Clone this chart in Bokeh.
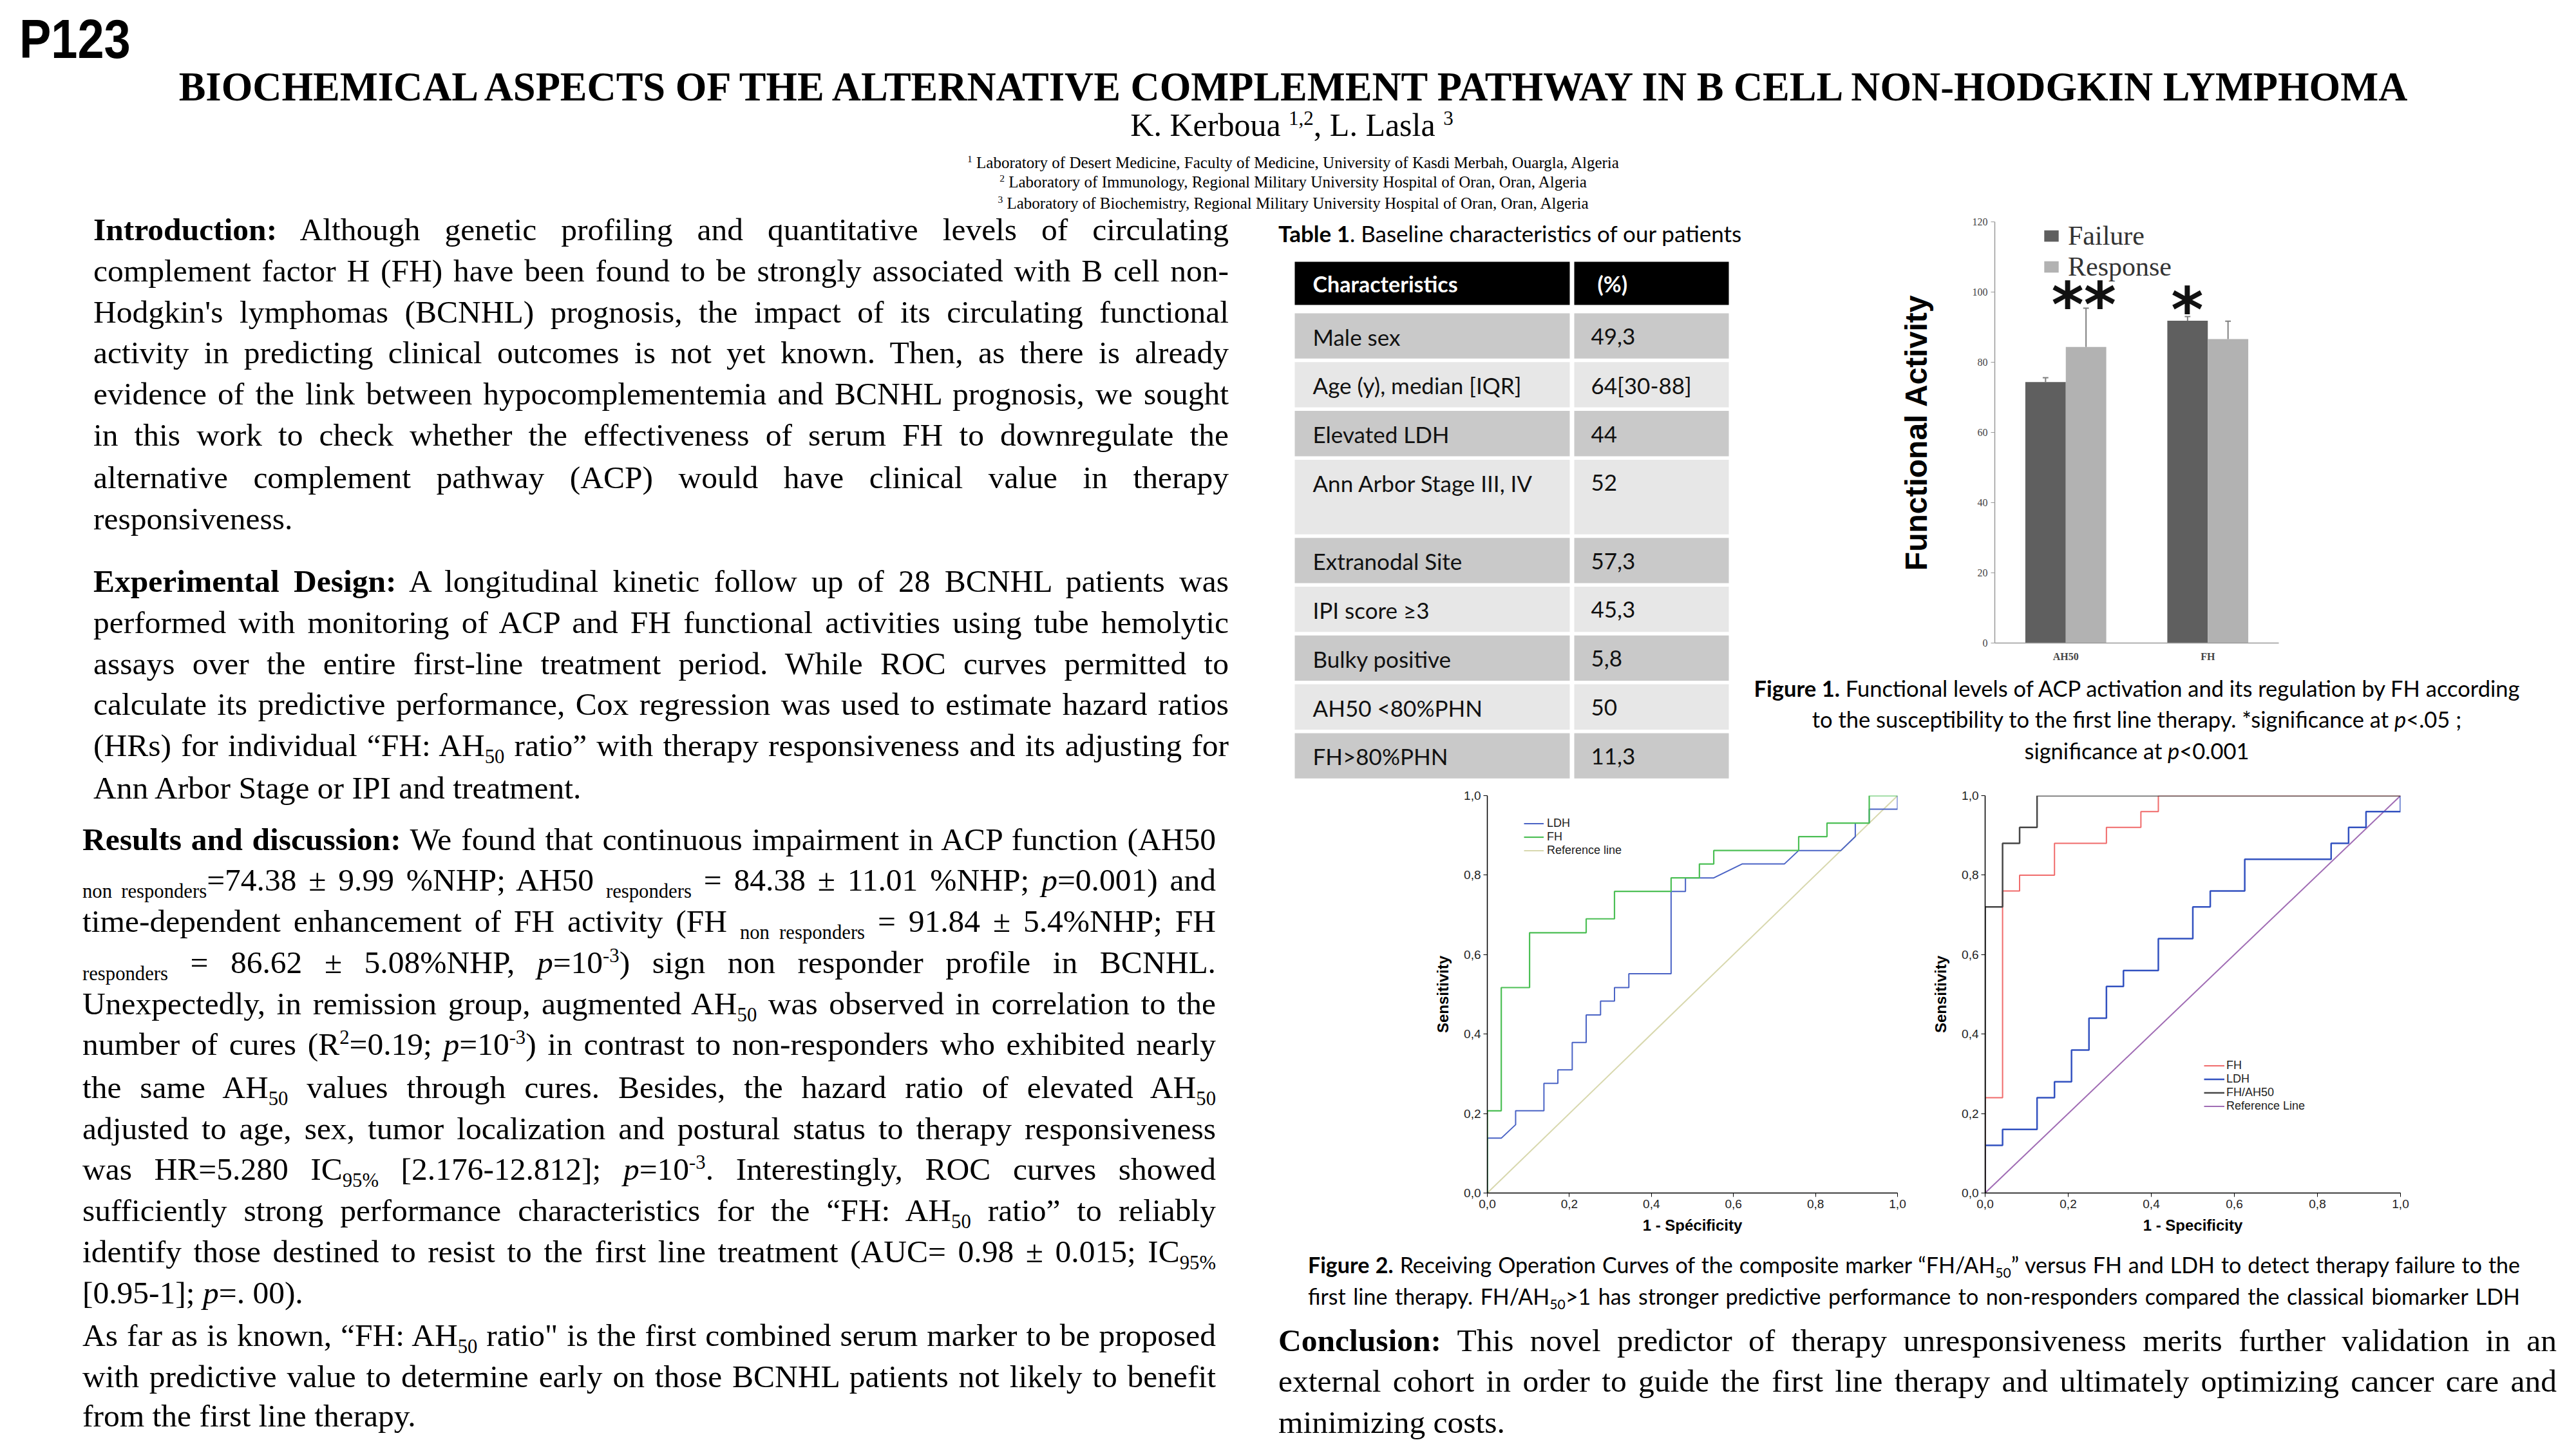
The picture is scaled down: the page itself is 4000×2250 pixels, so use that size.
from bokeh.plotting import figure
from bokeh.models import (Div, Range1d, FactorRange, ColumnDataSource, Legend, LegendItem,
                          FixedTicker, CustomJSTickFormatter)
from bokeh.layouts import row, column
from bokeh.transform import dodge
from bokeh.embed import file_html
from bokeh.resources import INLINE
from bokeh.core.properties import value

# ---------------- data ----------------
bar_cats = ["AH50", "FH"]
failure_vals = [74.38, 91.84]
failure_err = [1.2, 1.2]
response_vals = [84.38, 86.62]
response_err = [11.01, 5.08]
sig_marks = ["**", "*"]
sig_y = [96.2, 94.8]

table_rows = ["Male sex", "Age (y), median [IQR]", "Elevated LDH", "Ann Arbor Stage III, IV",
              "Extranodal Site", "IPI score \u22653", "Bulky positive", "AH50 <80%PHN", "FH>80%PHN"]
table_vals = ["49,3", "64[30-88]", "44", "52", "57,3", "45,3", "5,8", "50", "11,3"]
row_span = [1, 1, 1, 1.6, 1, 1, 1, 1, 1]

# ROC figure A (FH vs LDH)
rocA_fh_x = [0, 0, 0.034, 0.034, 0.103, 0.103, 0.241, 0.241, 0.310, 0.310, 0.448, 0.448,
             0.517, 0.517, 0.552, 0.552, 0.759, 0.759, 0.828, 0.828, 0.931, 0.931, 1.0]
rocA_fh_y = [0, 0.207, 0.207, 0.517, 0.517, 0.655, 0.655, 0.690, 0.690, 0.759, 0.759, 0.793,
             0.793, 0.828, 0.828, 0.862, 0.862, 0.897, 0.897, 0.931, 0.931, 1.0, 1.0]
rocA_ldh_x = [0, 0, 0.034, 0.069, 0.069, 0.138, 0.138, 0.172, 0.172, 0.207, 0.207, 0.241, 0.241,
              0.276, 0.276, 0.310, 0.310, 0.345, 0.345, 0.448, 0.448, 0.483, 0.483, 0.552, 0.621,
              0.724, 0.759, 0.862, 0.897, 0.897, 0.931, 0.931, 1.0, 1.0]
rocA_ldh_y = [0, 0.138, 0.138, 0.172, 0.207, 0.207, 0.276, 0.276, 0.310, 0.310, 0.379, 0.379, 0.448,
              0.448, 0.483, 0.483, 0.517, 0.517, 0.552, 0.552, 0.759, 0.759, 0.793, 0.793, 0.828,
              0.828, 0.862, 0.862, 0.897, 0.931, 0.931, 0.966, 0.966, 1.0]
ref_x = [0.0, 1.0]
ref_y = [0.0, 1.0]

# ROC figure B (FH/AH50 vs FH vs LDH)
rocB_ratio_x = [0, 0, 0.042, 0.042, 0.083, 0.083, 0.125, 0.125, 1.0]
rocB_ratio_y = [0, 0.72, 0.72, 0.88, 0.88, 0.92, 0.92, 1.0, 1.0]
rocB_fh_x = [0, 0, 0.042, 0.042, 0.083, 0.083, 0.167, 0.167, 0.292, 0.292, 0.375, 0.375, 0.417, 0.417, 1.0]
rocB_fh_y = [0, 0.24, 0.24, 0.76, 0.76, 0.80, 0.80, 0.88, 0.88, 0.92, 0.92, 0.96, 0.96, 1.0, 1.0]
rocB_ldh_x = [0, 0, 0.042, 0.042, 0.125, 0.125, 0.167, 0.167, 0.208, 0.208, 0.25, 0.25, 0.292, 0.292,
              0.333, 0.333, 0.417, 0.417, 0.5, 0.5, 0.542, 0.542, 0.625, 0.625, 0.833, 0.833,
              0.875, 0.875, 0.917, 0.917, 1.0, 1.0]
rocB_ldh_y = [0, 0.12, 0.12, 0.16, 0.16, 0.24, 0.24, 0.28, 0.28, 0.36, 0.36, 0.44, 0.44, 0.52,
              0.52, 0.56, 0.56, 0.64, 0.64, 0.72, 0.72, 0.76, 0.76, 0.84, 0.84, 0.88, 0.88,
              0.92, 0.92, 0.96, 0.96, 1.0]
roc_ticks = [0.0, 0.2, 0.4, 0.6, 0.8, 1.0]

# ---------------- helpers ----------------
SERIF = "'Liberation Serif','Times New Roman',serif"
SANS = "'Liberation Sans',Arial,sans-serif"
CAL = "Lato,'Open Sans',sans-serif"
SUB = '<span style="font-size:0.62em;vertical-align:-0.35em;line-height:0;">'
SUP = '<span style="font-size:0.62em;vertical-align:0.55em;line-height:0;">'
E = '</span>'


def line(html, cy, left, width, size, lh, align="justify", family=SERIF, extra=""):
    top = cy - lh / 2
    return (f'<div style="position:absolute;left:{left}px;top:{top}px;width:{width}px;'
            f'height:{lh}px;line-height:{lh}px;font-size:{size}px;font-family:{family};'
            f'text-align:{align};text-align-last:{align};white-space:nowrap;color:#000;{extra}">'
            f'{html}</div>')


def box(lines, w, h):
    return Div(text=f'<div style="position:relative;width:{w}px;height:{h}px;overflow:visible;">'
                    + "".join(lines) + '</div>',
               width=w, height=h, margin=0, styles={"overflow": "visible"})


# ---------------- header ----------------
W_ALL = 3984
hdr = []
hdr.append(line("P123", 60, 30, 400, 86, 90, align="left", family=SANS,
                extra="font-weight:bold;transform:scaleX(0.86);transform-origin:left;"))
hdr.append(line("BIOCHEMICAL ASPECTS OF THE ALTERNATIVE COMPLEMENT PATHWAY IN B CELL NON-HODGKIN LYMPHOMA",
                135, 0, 4016, 62.5, 72, align="center", extra="font-weight:bold;"))
hdr.append(line(f"K. Kerboua {SUP}1,2{E}, L. Lasla {SUP}3{E}", 194, 0, 4012, 50, 56, align="center"))
hdr.append(line(f"{SUP}1{E} Laboratory of Desert Medicine, Faculty of Medicine, University of Kasdi Merbah, Ouargla, Algeria",
                253, 0, 4016, 25, 30, align="center"))
hdr.append(line(f"{SUP}2{E} Laboratory of Immunology, Regional Military University Hospital of Oran, Oran, Algeria",
                283, 0, 4016, 25, 30, align="center"))
hdr.append(line(f"{SUP}3{E} Laboratory of Biochemistry, Regional Military University Hospital of Oran, Oran, Algeria",
                316, 0, 4016, 25, 30, align="center"))
header_div = box(hdr, W_ALL, 330)

# ---------------- left text column ----------------
BODY = 49.5
LH = 64
intro = [
    "<b>Introduction:</b> Although genetic profiling and quantitative levels of circulating",
    "complement factor H (FH) have been found to be strongly associated with B cell non-",
    "Hodgkin's lymphomas (BCNHL) prognosis, the impact of its circulating functional",
    "activity in predicting clinical outcomes is not yet known. Then, as there is already",
    "evidence of the link between hypocomplementemia and BCNHL prognosis, we sought",
    "in this work to check whether the effectiveness of serum FH to downregulate the",
    "alternative complement pathway (ACP) would have clinical value in therapy",
    "responsiveness.",
]
intro_y = [27, 91, 155, 218, 282, 346, 412, 476]
exp = [
    "<b>Experimental Design:</b> A longitudinal kinetic follow up of 28 BCNHL patients was",
    "performed with monitoring of ACP and FH functional activities using tube hemolytic",
    "assays over the entire first-line treatment period. While ROC curves permitted to",
    "calculate its predictive performance, Cox regression was used to estimate hazard ratios",
    f"(HRs) for individual \u201cFH: AH{SUB}50{E} ratio\u201d with therapy responsiveness and its adjusting for",
    "Ann Arbor Stage or IPI and treatment.",
]
exp_y = [573, 637, 701, 764, 828, 894]
res = [
    "<b>Results and discussion:</b> We found that continuous impairment in ACP function (AH50",
    f"{SUB}non responders{E}=74.38 \u00b1 9.99 %NHP; AH50 {SUB}responders{E} = 84.38 \u00b1 11.01 %NHP; <i>p</i>=0.001) and",
    f"time-dependent enhancement of FH activity (FH {SUB}non responders{E} = 91.84 \u00b1 5.4%NHP; FH",
    f"{SUB}responders{E} = 86.62 \u00b1 5.08%NHP, <i>p</i>=10{SUP}-3{E}) sign non responder profile in BCNHL.",
    f"Unexpectedly, in remission group, augmented AH{SUB}50{E} was observed in correlation to the",
    f"number of cures (R{SUP}2{E}=0.19; <i>p</i>=10{SUP}-3{E}) in contrast to non-responders who exhibited nearly",
    f"the same AH{SUB}50{E} values through cures. Besides, the hazard ratio of elevated AH{SUB}50{E}",
    "adjusted to age, sex, tumor localization and postural status to therapy responsiveness",
    f"was HR=5.280 IC{SUB}95%{E} [2.176-12.812]; <i>p</i>=10{SUP}-3{E}. Interestingly, ROC curves showed",
    f"sufficiently strong performance characteristics for the \u201cFH: AH{SUB}50{E} ratio\u201d to reliably",
    f"identify those destined to resist to the first line treatment (AUC= 0.98 \u00b1 0.015; IC{SUB}95%{E}",
    "[0.95-1]; <i>p</i>=. 00).",
    f"As far as is known, \u201cFH: AH{SUB}50{E} ratio\" is the first combined serum marker to be proposed",
    "with predictive value to determine early on those BCNHL patients not likely to benefit",
    "from the first line therapy.",
]
res_y = [974, 1037, 1101, 1165, 1229, 1292, 1359, 1423, 1486, 1550, 1614, 1678, 1744, 1808, 1869]
res_left = {11, 14}

left_lines = []
for i, (t, y) in enumerate(zip(intro, intro_y)):
    left_lines.append(line(t, y, 145, 1763, BODY, LH, align="left" if i == len(intro) - 1 else "justify"))
for i, (t, y) in enumerate(zip(exp, exp_y)):
    left_lines.append(line(t, y, 145, 1763, BODY, LH, align="left" if i == len(exp) - 1 else "justify"))
for i, (t, y) in enumerate(zip(res, res_y)):
    left_lines.append(line(t, y, 128, 1760, BODY, LH, align="left" if i in res_left else "justify"))
left_div = box(left_lines, 1948, 1904)

# ---------------- table ----------------
tab_cap = box([line("<b>Table 1</b>. Baseline characteristics of our patients", 32, 37, 800, 35, 46,
                    align="left", family=CAL)], 767, 75)

TW, TH = 767, 805
tp = figure(width=TW, height=TH, x_range=Range1d(0, TW), y_range=Range1d(TH, 0),
            x_axis_type=None, y_axis_type=None, toolbar_location=None, output_backend="svg",
            min_border=0, outline_line_color=None)
tp.xgrid.visible = False
tp.ygrid.visible = False
C1L, C1R, C2L, C2R = 62, 489, 496, 736
PITCH, GAP, START = 75.8, 5.5, 81
tops, bots = [], []
cur = START
for s in row_span:
    tops.append(cur)
    bots.append(cur + s * PITCH - GAP)
    cur += s * PITCH
fills = ["#c9c9c9" if i % 2 == 0 else "#e7e7e7" for i in range(len(table_rows))]
tsrc = ColumnDataSource(dict(top=tops, bottom=bots, fill=fills, label=table_rows, val=table_vals,
                             ty=[t + 36 for t in tops]))
tp.quad(left=C1L, right=C1R, top="top", bottom="bottom", fill_color="fill", line_color=None, source=tsrc)
tp.quad(left=C2L, right=C2R, top="top", bottom="bottom", fill_color="fill", line_color=None, source=tsrc)
tp.quad(left=[C1L, C2L], right=[C1R, C2R], top=[1, 1], bottom=[68, 68], fill_color="#000000", line_color=None)
tp.text(x=[90, 532], y=[35, 35], text=["Characteristics", "(%)"], text_font=value("Lato"),
        text_font_style="bold", text_font_size="34px", text_color="white", text_baseline="middle")
tp.text(x=90, y="ty", text="label", source=tsrc, text_font=value("Lato"), text_font_size="35px",
        text_color="#111111", text_baseline="middle")
tp.text(x=522, y="ty", text="val", source=tsrc, text_font=value("Lato"), text_font_size="35px",
        text_color="#111111", text_baseline="middle")
table_col = column([tab_cap, tp], spacing=0, margin=0)

# ---------------- bar chart ----------------
bp = figure(width=1269, height=700, x_range=FactorRange(factors=bar_cats, range_padding=0),
            y_range=Range1d(0, 120), toolbar_location=None, output_backend="svg",
            min_border_left=382, min_border_right=446, min_border_top=14, min_border_bottom=27,
            outline_line_color=None)
src_f = ColumnDataSource(dict(cat=bar_cats, val=failure_vals,
                              top=[v + e for v, e in zip(failure_vals, failure_err)]))
src_r = ColumnDataSource(dict(cat=bar_cats, val=response_vals,
                              top=[v + e for v, e in zip(response_vals, response_err)]))
OFF, BW, CAP = 0.1425, 0.285, 0.02
rf = bp.vbar(x=dodge("cat", -OFF, range=bp.x_range), top="val", width=BW, source=src_f,
             fill_color="#5f5f5f", line_color=None)
rr = bp.vbar(x=dodge("cat", OFF, range=bp.x_range), top="val", width=BW, source=src_r,
             fill_color="#b2b2b2", line_color=None)
for src, off in ((src_f, -OFF), (src_r, OFF)):
    bp.segment(x0=dodge("cat", off, range=bp.x_range), y0="val", x1=dodge("cat", off, range=bp.x_range),
               y1="top", source=src, line_color="#808080", line_width=2)
    bp.segment(x0=dodge("cat", off - CAP, range=bp.x_range), y0="top",
               x1=dodge("cat", off + CAP, range=bp.x_range), y1="top", source=src,
               line_color="#808080", line_width=2)
sig_src = ColumnDataSource(dict(cat=bar_cats, y=sig_y, mark=sig_marks, xoff=[28, -32]))
bp.text(x="cat", y="y", text="mark", x_offset="xoff", source=sig_src, text_font=value("DejaVu Sans"),
        text_font_style="bold", text_font_size="96px", text_align="center", text_baseline="alphabetic",
        text_color="#111111")
bp.xgrid.visible = False
bp.ygrid.visible = False
bp.yaxis.ticker = FixedTicker(ticks=[0, 20, 40, 60, 80, 100, 120])
bp.yaxis.minor_tick_line_color = None
bp.yaxis.major_tick_in = 0
bp.yaxis.major_tick_out = 6
for ax in (bp.xaxis[0], bp.yaxis[0]):
    ax.axis_line_color = "#9a9a9a"
    ax.axis_line_width = 1.5
    ax.major_tick_line_color = "#9a9a9a"
    ax.major_label_text_font = "Liberation Serif"
    ax.major_label_text_font_size = "16px"
    ax.major_label_text_color = "#444444"
bp.xaxis.major_tick_line_color = None
bp.xaxis.major_label_text_font_style = "bold"
bp.xaxis.major_label_standoff = 6
bp.yaxis.axis_label = "Functional Activity"
bp.yaxis.axis_label_text_font = "Liberation Sans"
bp.yaxis.axis_label_text_font_style = "bold"
bp.yaxis.axis_label_text_font_size = "48px"
bp.yaxis.axis_label_text_color = "#000000"
bp.yaxis.axis_label_standoff = 58
bleg = Legend(items=[LegendItem(label="Failure", renderers=[rf]),
                     LegendItem(label="Response", renderers=[rr])],
              location=(74, 560), label_text_font="Liberation Serif", label_text_font_size="42px",
              label_text_color="#333333", glyph_width=28, glyph_height=22, label_height=43,
              spacing=0, padding=0, margin=0, label_standoff=12, border_line_color=None,
              background_fill_alpha=0)
bp.add_layout(bleg)

fig1_cap = box([
    line("<b>Figure 1.</b> Functional levels of ACP activation and its regulation by FH according",
         39, 3, 1200, 34.5, 48, align="center", family=CAL),
    line("to the susceptibility to the first line therapy. *significance at <i>p</i>&lt;.05 ;",
         87, 3, 1200, 34.5, 48, align="center", family=CAL),
    line("significance at <i>p</i>&lt;0.001", 136, 3, 1200, 34.5, 48, align="center", family=CAL),
], 1269, 180)
bar_col = column([bp, fig1_cap], spacing=0, margin=0)


# ---------------- ROC figures ----------------
def roc_fig(w, h, ml, mr, mt, mb, xlabel, series):
    p = figure(width=w, height=h, x_range=Range1d(0, 1), y_range=Range1d(0, 1),
               toolbar_location=None, output_backend="svg", min_border_left=ml, min_border_right=mr,
               min_border_top=mt, min_border_bottom=mb, outline_line_color=None)
    p.xgrid.visible = False
    p.ygrid.visible = False
    rends = {}
    for name, xs, ys, color, lw in series:
        rends[name] = p.line(xs, ys, line_color=color, line_width=lw)
    for ax in (p.xaxis[0], p.yaxis[0]):
        ax.ticker = FixedTicker(ticks=roc_ticks)
        ax.formatter = CustomJSTickFormatter(code="return tick.toFixed(1).replace('.', ',');")
        ax.minor_tick_line_color = None
        ax.major_tick_in = 0
        ax.major_tick_out = 6
        ax.axis_line_color = "#000000"
        ax.axis_line_width = 1.5
        ax.major_tick_line_color = "#000000"
        ax.major_label_text_font = "Liberation Sans"
        ax.major_label_text_font_size = "19px"
        ax.major_label_text_color = "#222222"
        ax.major_label_standoff = 4
        ax.axis_label_text_font = "Liberation Sans"
        ax.axis_label_text_font_style = "bold"
        ax.axis_label_text_font_size = "24px"
        ax.axis_label_text_color = "#000000"
    p.xaxis.axis_label = xlabel
    p.yaxis.axis_label = "Sensitivity"
    p.yaxis.axis_label_standoff = 16
    p.xaxis.axis_label_standoff = 10
    return p, rends


ra, ra_r = roc_fig(1042, 730, 361, 44, 25, 88, "1 - Sp\u00e9cificity", [
    ("Reference line", ref_x, ref_y, "#d8d8ae", 2),
    ("LDH", rocA_ldh_x, rocA_ldh_y, "#4a63c5", 2),
    ("FH", rocA_fh_x, rocA_fh_y, "#4cbf55", 2.2),
])
leg_a = Legend(items=[LegendItem(label=n, renderers=[ra_r[n]]) for n in ("LDH", "FH", "Reference line")],
               location=(57, 521), label_text_font="Liberation Sans", label_text_font_size="18px",
               label_text_color="#222222", glyph_width=31, glyph_height=21, label_height=21, spacing=0,
               padding=0, margin=0, label_standoff=5, border_line_color=None, background_fill_alpha=0)
ra.add_layout(leg_a)

rb, rb_r = roc_fig(994, 730, 92, 257, 17, 85, "1 - Specificity", [
    ("Reference Line", ref_x, ref_y, "#a06cb4", 2),
    ("LDH", rocB_ldh_x, rocB_ldh_y, "#3352c0", 2.5),
    ("FH", rocB_fh_x, rocB_fh_y, "#f06b6b", 2),
    ("FH/AH50", rocB_ratio_x, rocB_ratio_y, "#474747", 2.5),
])
leg_b = Legend(items=[LegendItem(label=n, renderers=[rb_r[n]]) for n in ("FH", "LDH", "FH/AH50", "Reference Line")],
               location=(340, 124), label_text_font="Liberation Sans", label_text_font_size="18px",
               label_text_color="#222222", glyph_width=32, glyph_height=21, label_height=21, spacing=0,
               padding=0, margin=0, label_standoff=3, border_line_color=None, background_fill_alpha=0)
rb.add_layout(leg_b)

# ---------------- bottom text ----------------
bottom_div = box([
    line(f"<b>Figure 2.</b> Receiving Operation Curves of the composite marker \u201cFH/AH{SUB}50{E}\u201d versus FH and LDH to detect therapy failure to the",
         24, 83, 1882, 34, 48, family=CAL),
    line(f"first line therapy. FH/AH{SUB}50{E}&gt;1 has stronger predictive performance to non-responders compared the classical biomarker LDH",
         73, 83, 1882, 34, 48, family=CAL),
    line("<b>Conclusion:</b> This novel predictor of therapy unresponsiveness merits further validation in an",
         142, 37, 1985, BODY, LH),
    line("external cohort in order to guide the first line therapy and ultimately optimizing cancer care and",
         205, 37, 1985, BODY, LH),
    line("minimizing costs.", 269, 37, 1985, BODY, LH, align="left"),
], 2036, 294)

rowA = row([table_col, bar_col], spacing=0, margin=0)
rowB = row([ra, rb], spacing=0, margin=0)
right_col = column([rowA, rowB, bottom_div], spacing=0, margin=0)
main = row([left_div, right_col], spacing=0, margin=0)
layout = column([header_div, main], spacing=0, margin=0)

open("out.html", "w").write(file_html(layout, INLINE, title="P123"))
